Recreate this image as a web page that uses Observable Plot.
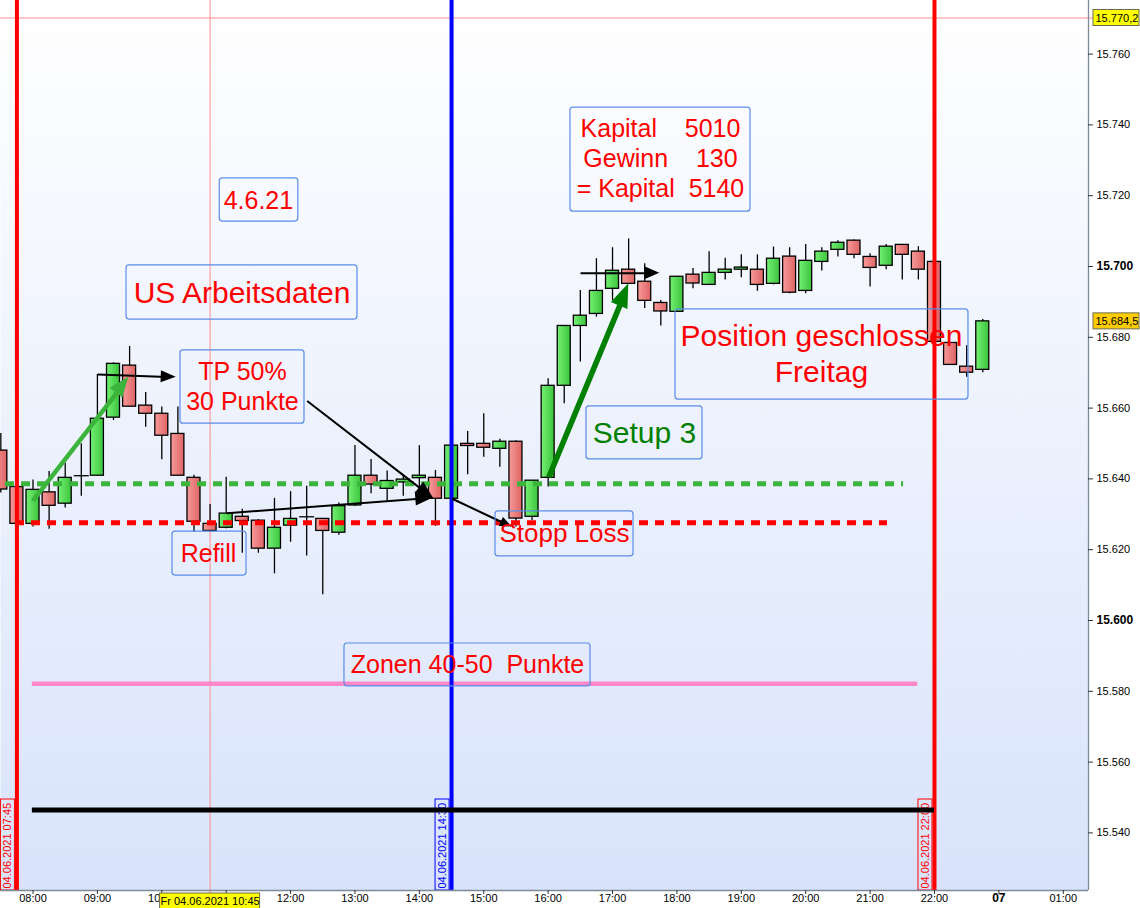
<!DOCTYPE html>
<html><head><meta charset="utf-8">
<script src="https://cdn.jsdelivr.net/npm/d3@7"></script>
<script src="https://cdn.jsdelivr.net/npm/@observablehq/plot@0.6"></script>
<style>
body{margin:0;background:#fff;}
#chart svg text{white-space:pre;}
</style></head><body><div id="chart"></div>
<script>
// ---------- Candles (15 min, 04.06.2021) ----------
const times = ["07:30","07:45","08:00","08:15","08:30","08:45","09:00","09:15","09:30","09:45",
  "10:00","10:15","10:30","10:45","11:00","11:15","11:30","11:45","12:00","12:15","12:30","12:45",
  "13:00","13:15","13:30","13:45","14:00","14:15","14:30","14:45","15:00","15:15","15:30","15:45",
  "16:00","16:15","16:30","16:45","17:00","17:15","17:30","17:45","18:00","18:15","18:30","18:45",
  "19:00","19:15","19:30","19:45","20:00","20:15","20:30","20:45","21:00","21:15","21:30","21:45",
  "22:00","22:15","22:30","22:45"];
const open = [15648,15637.7,15627.3,15636.2,15633,15640.9,15640.9,15657.3,15672,15660.7,
  15658.4,15652.7,15640.3,15627.3,15626.2,15629.3,15628.2,15620.3,15626.8,15629.3,15628.7,15624.8,
  15632.5,15640.9,15637.2,15639,15640.2,15640.3,15634.4,15649.9,15649.9,15648.5,15650.5,15629.3,
  15640.3,15666.3,15683.2,15686.6,15693.7,15699.1,15695.7,15689.7,15687.2,15697.7,15694.8,15698.2,
  15699.1,15699.1,15695.1,15702.8,15693.1,15701.3,15704.7,15707.3,15702.7,15700.2,15706.1,15704.2,
  15701.3,15678.4,15671.7,15670.8];
const high = [15652.8,15638,15639.7,15642.1,15644.4,15649.9,15669.5,15672.8,15677.4,15664.4,
  15660.3,15660.3,15641,15632.8,15640.5,15631.4,15628.5,15634.5,15636.4,15637.9,15628.7,15633.2,
  15649.4,15645.5,15642.2,15641.2,15649.4,15642.4,15649.4,15653.4,15658.4,15651.2,15650.8,15639.5,
  15668.3,15683.2,15693.2,15702.2,15705.3,15707.8,15700.8,15690.4,15697.1,15699.4,15704.2,15702.3,
  15703.3,15703.3,15705.5,15705.3,15706.2,15705.3,15707.3,15707.5,15703.6,15706.2,15706.2,15705.6,
  15701.3,15678.4,15677.6,15685];
const low = [15636,15627,15626.4,15625.8,15631.8,15635.1,15640.9,15656.5,15660.4,15654.6,
  15645.4,15640.9,15624.9,15625,15625.9,15619,15619,15613.2,15622.1,15618.2,15607.3,15624.1,
  15632.2,15635.8,15633.7,15635.1,15634.8,15626.6,15634.4,15641.2,15646.1,15643.3,15626.4,15628.2,
  15637.7,15661.2,15673,15685.7,15690.4,15695,15688.1,15683.2,15687,15693.7,15694.8,15696.2,
  15696.8,15693,15694.8,15692.3,15692.3,15698.7,15702.7,15702.2,15694.2,15699.1,15696.2,15696.2,
  15678.7,15672.2,15668.7,15670];
const close = [15637,15627.3,15636.9,15632.4,15640.3,15640.9,15657,15672.5,15660.4,15658.4,
  15652.2,15640.9,15627.9,15625.3,15630.2,15628.1,15620.3,15626.2,15628.7,15629.3,15625.3,15632.3,
  15640.9,15638.4,15639.4,15639.8,15640.9,15634.4,15649.4,15649.3,15648.8,15650.5,15628.8,15639.5,
  15666.3,15683.2,15686.1,15693.1,15698.8,15695.1,15690.3,15687.3,15697.1,15695.2,15698.2,15699.1,
  15699.7,15694.8,15702.2,15692.6,15701.6,15704.2,15706.7,15703.3,15699.6,15705.6,15703.3,15699.1,
  15678.7,15672.2,15670,15684.5];

// ---------- Axes ----------
const xTickHours = [8,9,10,11,12,13,14,15,16,17,18,19,20,21,22,23,24];
const xTickLabels = ["08:00","09:00","10:00","11:00","12:00","13:00","14:00","15:00","16:00","17:00","18:00","19:00","20:00","21:00","22:00","07","01:00"];
const yTicks = [15540,15560,15580,15600,15620,15640,15660,15680,15700,15720,15740,15760];
const yTickLabels = ["15.540","15.560","15.580","15.600","15.620","15.640","15.660","15.680","15.700","15.720","15.740","15.760"];

// ---------- Crosshair / price markers ----------
const crossTime = 10.75;
const crossTimeLabel = "Fr 04.06.2021 10:45";
const crossPrice = 15770.2;
const crossPriceLabel = "15.770,2";
const lastPrice = 15684.5;
const lastPriceLabel = "15.684,5";

// ---------- Vertical time markers ----------
const vTimes = [7.75, 14.5, 22];
const vLabels = ["04.06.2021 07:45","04.06.2021 14:30","04.06.2021 22:00"];

// ---------- Horizontal levels ----------
const levelPrice = [15638.6, 15627.6, 15582.1, 15546.5];
const levelStart = [7.573, 7.728, 7.99, 7.99];
const levelEnd = [21.52, 21.27, 21.74, 22.0];

// ---------- Arrows ----------
const arrowX1 = [7.997, 9.006, 12.258, 11.016, 14.510, 16.010, 16.503];
const arrowY1 = [15633.8, 15669.5, 15662.0, 15630.3, 15634.4, 15640.5, 15698.1];
const arrowX2 = [9.488, 10.224, 14.224, 14.224, 15.442, 17.253, 17.734];
const arrowY2 = [15668.7, 15668.7, 15634.4, 15634.7, 15626.4, 15695.1, 15698.1];

// ---------- Notes ----------
const noteText = ["4.6.21","US Arbeitsdaten","TP 50%\n30 Punkte","Refill","Stopp Loss","Setup 3",
  "Kapital    5010\nGewinn    130\n= Kapital  5140","Position geschlossen\nFreitag","Zonen 40-50  Punkte"];
const noteX = [11.50, 11.246, 11.253, 10.725, 16.254, 17.496, 17.745, 20.245, 14.748];
const noteY = [15718.9, 15692.9, 15666.5, 15619.2, 15624.9, 15653.4, 15730.8, 15675.8, 15587.9];
const boxX1 = [10.90, 9.452, 10.290, 10.166, 15.182, 16.596, 16.347, 17.978, 12.837];
const boxX2 = [12.12, 13.039, 12.216, 11.316, 17.326, 18.397, 19.143, 22.528, 16.658];
const boxY1 = [15712.7, 15685.0, 15655.6, 15612.7, 15618.1, 15645.5, 15715.5, 15662.4, 15581.4];
const boxY2 = [15724.9, 15700.3, 15676.3, 15625.1, 15630.8, 15660.5, 15744.9, 15687.9, 15593.5];

// ================= layout / styles =================
const W = 1140, H = 908, MR = 52, MB = 18;
const X_DOMAIN = [7.495, 24.392];
const Y_DOMAIN = [15523.73, 15775.14];
const PX_PER_H = (W - MR) / (X_DOMAIN[1] - X_DOMAIN[0]);
const PX_PER_PT = (H - MB) / (Y_DOMAIN[1] - Y_DOMAIN[0]);
const dxH = px => px / PX_PER_H;
const dyP = px => px / PX_PER_PT;
const FONT = "Liberation Sans, Arial, sans-serif";
const hm = s => { const [h, m] = s.split(":").map(Number); return h + m / 60; };

const candles = times.map((t, i) => ({t: hm(t), o: open[i], h: high[i], l: low[i], c: close[i]}));
const up = candles.filter(d => d.c > d.o + 0.3);
const dn = candles.filter(d => d.c < d.o - 0.3);
const doji = candles.filter(d => Math.abs(d.c - d.o) <= 0.3);
const BW = dxH(6.5);

const levelStyle = [
  {stroke: "#3cb43c", width: 5, dash: "9,7"},
  {stroke: "#ff0000", width: 5, dash: "9,7"},
  {stroke: "#ff88c8", width: 4.5, dash: null},
  {stroke: "#000000", width: 5, dash: null}
];
const vColors = ["#ff0000", "#0000ff", "#ff0000"];
const arrowStyle = [
  {c: "#3cb43c", w: 4.5, L: 20, B: 16},
  {c: "#000", w: 2, L: 15, B: 12},
  {c: "#000", w: 2, L: 18, B: 14},
  {c: "#000", w: 2, L: 18, B: 14},
  {c: "#000", w: 2, L: 12, B: 10},
  {c: "#008000", w: 5.5, L: 24, B: 18},
  {c: "#000", w: 2, L: 15, B: 13}
];
const noteSize = [25, 30, 25, 25, 26, 30, 25, 30, 25];
const noteColor = ["#ff0000","#ff0000","#ff0000","#ff0000","#ff0000","#008000","#ff0000","#ff0000","#ff0000"];
const noteLH = [1.2, 1.2, 1.24, 1.2, 1.2, 1.2, 1.2, 1.23, 1.2];

const arrows = arrowX1.map((x1, i) => ({x1, y1: arrowY1[i], x2: arrowX2[i], y2: arrowY2[i], s: arrowStyle[i]}));
function shorten(a, px) {
  const dxp = (a.x2 - a.x1) * PX_PER_H, dyp = (a.y2 - a.y1) * PX_PER_PT;
  const len = Math.hypot(dxp, dyp), k = (len - px) / len;
  return {x2: a.x1 + (a.x2 - a.x1) * k, y2: a.y1 + (a.y2 - a.y1) * k};
}

const headMark = (index, scales) => {
  const g = d3.create("svg:g");
  for (const a of arrows) {
    const x1 = scales.x(a.x1), y1 = scales.y(a.y1), x2 = scales.x(a.x2), y2 = scales.y(a.y2);
    const dx = x2 - x1, dy = y2 - y1, len = Math.hypot(dx, dy), ux = dx / len, uy = dy / len;
    const bx = x2 - ux * a.s.L, by = y2 - uy * a.s.L, px = -uy, py = ux, hb = a.s.B / 2;
    g.append("path")
      .attr("d", `M${x2},${y2}L${bx + px * hb},${by + py * hb}L${bx - px * hb},${by - py * hb}Z`)
      .attr("fill", a.s.c);
  }
  return g.node();
};

const marks = [];
marks.push(Plot.frame({fill: "#eef2fe", stroke: "none"}));
// crosshair
marks.push(Plot.ruleX([crossTime], {x: d => d, y1: Y_DOMAIN[1], y2: Y_DOMAIN[0] - dyP(5), stroke: "#ff8c8c", strokeWidth: 1}));
marks.push(Plot.ruleY([crossPrice], {y: d => d, x1: X_DOMAIN[0], x2: X_DOMAIN[1] + dxH(5), stroke: "#ff8c8c", strokeWidth: 1}));
// candles
marks.push(Plot.ruleX(candles, {x: "t", y1: "l", y2: "h", stroke: "#000", strokeWidth: 1.3}));
marks.push(Plot.rect(up, {x1: d => d.t - BW, x2: d => d.t + BW, y1: "o", y2: "c", fill: "url(#gUp)", stroke: "#000", strokeWidth: 1.3}));
marks.push(Plot.rect(dn, {x1: d => d.t - BW, x2: d => d.t + BW, y1: "o", y2: "c", fill: "url(#gDn)", stroke: "#000", strokeWidth: 1.3}));
marks.push(Plot.link(doji, {x1: d => d.t - BW - dxH(1), x2: d => d.t + BW + dxH(1), y1: "o", y2: "o", stroke: "#000", strokeWidth: 1.3}));
// levels (dashed first)
levelPrice.forEach((p, i) => {
  const s = levelStyle[i];
  if (i === 3) return;
  marks.push(Plot.ruleY([p], {y: d => d, x1: levelStart[i], x2: levelEnd[i], stroke: s.stroke, strokeWidth: s.width, strokeDasharray: s.dash || undefined}));
});
// verticals
vTimes.forEach((t, i) => {
  marks.push(Plot.ruleX([t], {x: d => d, stroke: vColors[i], strokeWidth: 4}));
  marks.push(Plot.rect([t], {x1: d => d - dxH(16), x2: d => d - dxH(2), y1: Y_DOMAIN[0], y2: Y_DOMAIN[0] + dyP(91), fill: "none", stroke: vColors[i], strokeWidth: 1}));
  marks.push(Plot.text([vLabels[i]], {x: t - dxH(9), y: Y_DOMAIN[0] + dyP(2), text: d => d, rotate: -90, textAnchor: "start", fill: vColors[i], fontSize: 11}));
});
// black base line
marks.push(Plot.ruleY([levelPrice[3]], {y: d => d, x1: levelStart[3], x2: levelEnd[3], stroke: "#000", strokeWidth: 5}));
// arrows
arrows.forEach(a => {
  const e = shorten(a, a.s.L * 0.6);
  marks.push(Plot.link([a], {x1: "x1", y1: "y1", x2: () => e.x2, y2: () => e.y2, stroke: a.s.c, strokeWidth: a.s.w}));
});
marks.push(headMark);
// notes
noteText.forEach((txt, i) => {
  marks.push(Plot.rect([i], {x1: boxX1[i], x2: boxX2[i], y1: boxY1[i], y2: boxY2[i], fill: "none", stroke: "#5b8de8", strokeWidth: 1.2, rx: 3}));
  marks.push(Plot.text([txt], {x: noteX[i], y: noteY[i], text: d => d, fontSize: noteSize[i], fill: noteColor[i], lineHeight: noteLH[i], textAnchor: "middle"}));
});
// frame borders
marks.push(Plot.ruleX([X_DOMAIN[1]], {x: d => d, stroke: "#7d8b99", strokeWidth: 1.3}));
marks.push(Plot.ruleY([Y_DOMAIN[0]], {y: d => d, x1: X_DOMAIN[0], x2: X_DOMAIN[1], stroke: "#7d8b99", strokeWidth: 1.3}));
// x ticks + labels
marks.push(Plot.ruleX(xTickHours, {x: d => d, y1: Y_DOMAIN[0], y2: Y_DOMAIN[0] - dyP(4), stroke: "#333"}));
const xLab = xTickHours.map((h, i) => ({h, s: xTickLabels[i]}));
marks.push(Plot.text(xLab.filter(d => d.s !== "07"), {x: "h", text: "s", frameAnchor: "bottom", dy: 11, fontSize: 11, fill: "#000"}));
marks.push(Plot.text(xLab.filter(d => d.s === "07"), {x: "h", text: "s", frameAnchor: "bottom", dy: 11, fontSize: 12, fontWeight: "bold", fill: "#000"}));
// y ticks + labels
marks.push(Plot.ruleY(yTicks, {y: d => d, x1: X_DOMAIN[1], x2: X_DOMAIN[1] + dxH(5), stroke: "#333"}));
const yLab = yTicks.map((v, i) => ({v, s: yTickLabels[i]}));
marks.push(Plot.text(yLab.filter(d => d.v % 100 !== 0), {y: "v", text: "s", frameAnchor: "right", dx: 8, textAnchor: "start", fontSize: 11, fill: "#000"}));
marks.push(Plot.text(yLab.filter(d => d.v % 100 === 0), {y: "v", text: "s", frameAnchor: "right", dx: 8, textAnchor: "start", fontSize: 12, fontWeight: "bold", fill: "#000"}));
// price markers
marks.push(Plot.rect([crossPrice], {x1: X_DOMAIN[1] + dxH(5), x2: X_DOMAIN[1] + dxH(51), y1: d => d - dyP(8), y2: d => d + dyP(8), fill: "#ffff00", stroke: "#6b6b55", strokeWidth: 1}));
marks.push(Plot.text([crossPriceLabel], {x: X_DOMAIN[1] + dxH(7), y: crossPrice, text: d => d, textAnchor: "start", fontSize: 11, fill: "#000"}));
marks.push(Plot.rect([lastPrice], {x1: X_DOMAIN[1] + dxH(5), x2: X_DOMAIN[1] + dxH(51), y1: d => d - dyP(8), y2: d => d + dyP(8), fill: "#ffcc00", stroke: "#6b6b55", strokeWidth: 1}));
marks.push(Plot.text([lastPriceLabel], {x: X_DOMAIN[1] + dxH(7), y: lastPrice, text: d => d, textAnchor: "start", fontSize: 11, fill: "#000"}));
marks.push(Plot.rect([crossTime], {x1: d => d - dxH(50), x2: d => d + dxH(50), y1: Y_DOMAIN[0] - dyP(3), y2: Y_DOMAIN[0] - dyP(19), fill: "#ffff00", stroke: "#6b6b55", strokeWidth: 1}));
marks.push(Plot.text([crossTimeLabel], {x: crossTime, y: Y_DOMAIN[0] - dyP(11), text: d => d, fontSize: 11, fill: "#000"}));

const svg = Plot.plot({
  width: W, height: H,
  marginLeft: 0, marginTop: 0, marginRight: MR, marginBottom: MB,
  x: {type: "linear", domain: X_DOMAIN, axis: null},
  y: {type: "linear", domain: Y_DOMAIN, axis: null},
  style: {background: "white", fontFamily: FONT, fontSize: "12px", color: "black", overflow: "hidden"},
  marks
});

const sel = d3.select(svg);
const defs = sel.insert("defs", ":first-child");
const bg = defs.append("linearGradient").attr("id", "bg").attr("x1", 0).attr("y1", 0).attr("x2", 0).attr("y2", 1);
bg.append("stop").attr("offset", "0%").attr("stop-color", "#ffffff");
bg.append("stop").attr("offset", "100%").attr("stop-color", "#d8e3fb");
const gu = defs.append("linearGradient").attr("id", "gUp").attr("x1", 0).attr("y1", 0).attr("x2", 1).attr("y2", 0);
gu.append("stop").attr("offset", "0%").attr("stop-color", "#74f074");
gu.append("stop").attr("offset", "100%").attr("stop-color", "#3cc43c");
const gd = defs.append("linearGradient").attr("id", "gDn").attr("x1", 0).attr("y1", 0).attr("x2", 1).attr("y2", 0);
gd.append("stop").attr("offset", "0%").attr("stop-color", "#f79a9a");
gd.append("stop").attr("offset", "100%").attr("stop-color", "#de6464");
sel.selectAll('[aria-label="frame"]').attr("fill", "url(#bg)");
sel.selectAll('[aria-label="frame"] rect').attr("fill", "url(#bg)");

document.getElementById("chart").appendChild(svg);
</script>
</body></html>
